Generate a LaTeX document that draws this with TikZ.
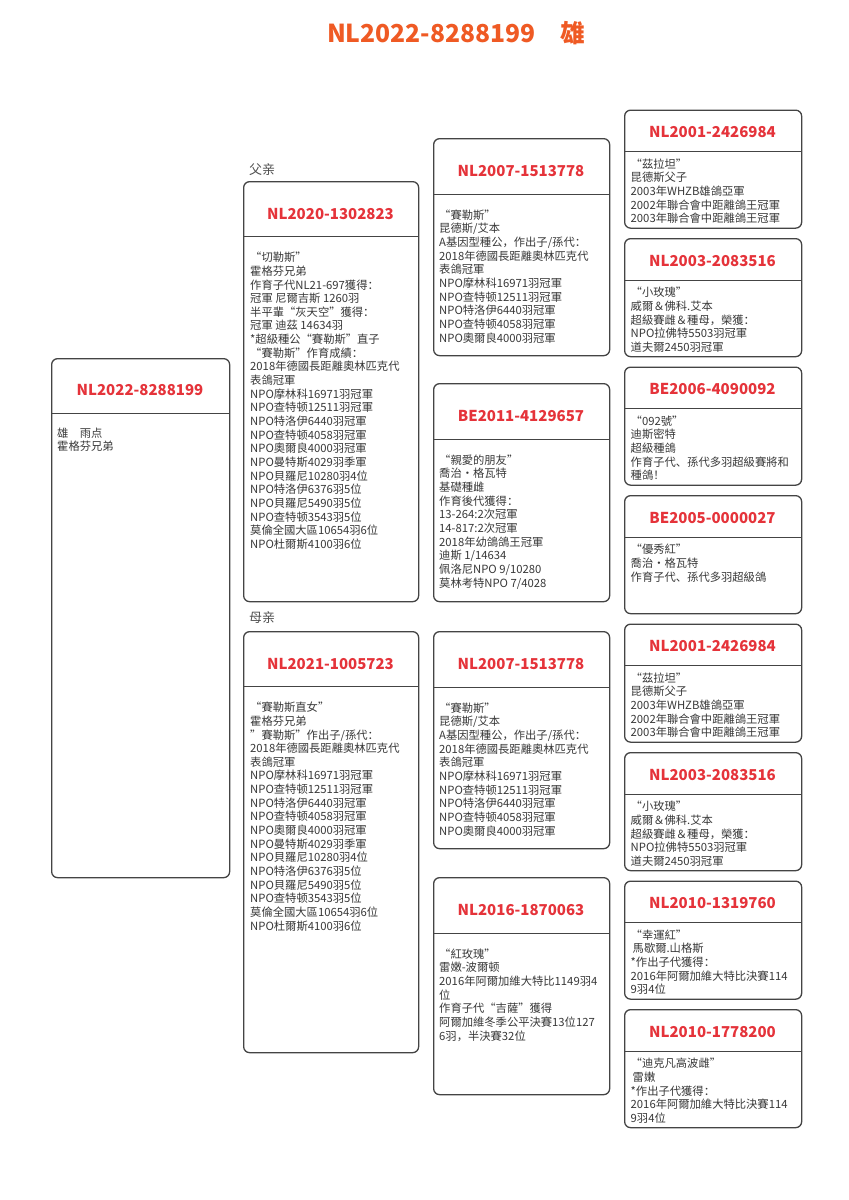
\documentclass[tikz,border=0pt]{standalone}
\usepackage{fontspec}
\setmainfont{Noto Sans CJK SC}
\definecolor{titleor}{HTML}{EF5A24}
\definecolor{hdred}{HTML}{E5333A}
\definecolor{bodyc}{HTML}{383838}
\definecolor{brd}{HTML}{444444}
\definecolor{lblc}{HTML}{505050}
\tikzset{
  boxline/.style={draw=brd,line width=1.3pt,rounded corners=6pt,minimum width=#1,inner sep=0pt,anchor=north west},
  divline/.style={draw=brd,line width=0.9pt},
  hdtext/.style={text=hdred,font=\fontsize{15}{18}\selectfont\bfseries,inner sep=0pt},
  bodytext/.style={text=bodyc,font=\fontsize{11.3}{13.65}\selectfont,inner sep=0pt,align=left,anchor=north west},
  lbltext/.style={text=lblc,font=\fontsize{13}{15}\selectfont,inner sep=0pt,anchor=west},
  titletext/.style={text=titleor,font=\fontsize{24.7}{28}\selectfont\bfseries,inner sep=0pt}
}
% #1 name, #2 x, #3 y, #4 w, #5 h, #6 divider offset, #7 title offset, #8 title, #9 body
\newcommand\pedbox[9]{%
  \node[boxline=#4pt,minimum height=#5pt] (#1) at (#2,#3) {};
  \draw[divline] (#2,#3+#6) -- (#2+#4,#3+#6);
  \node[hdtext] (#1-t) at (#2+#4/2,#3+#7) {#8};
  \node[bodytext] (#1-b) at (#2+\bodyx,#3+\bodyy) {\rule{0pt}{11pt}#9};
}
\begin{document}
\begin{tikzpicture}[x=1pt,y=-1pt]
\useasboundingbox (0,0) rectangle (849,1200);
\fill[white] (0,0) rectangle (849,1200);

\node[titletext] (title) at (456,33) {NL2022-8288199　雄};

% main
\def\bodyx{6}\def\bodyy{68}
\pedbox{main}{51}{358}{178}{519}{55}{32}{NL2022-8288199}{雄　雨点\\霍格芬兄弟}

% column 2
\node[lbltext] (lblf) at (249,170) {父亲};
\node[lbltext] (lblm) at (249,618) {母亲};
\def\bodyx{7}\def\bodyy{69.5}
\pedbox{sire}{243}{181}{175}{420}{55}{33}{NL2020-1302823}{“切勒斯”\\霍格芬兄弟\\作育子代NL21-697獲得：\\冠軍 尼爾吉斯 1260羽\\半平輩“灰天空”獲得：\\冠軍 迪茲 14634羽\\*超級種公“賽勒斯”直子\\“賽勒斯”作育成績：\\2018年德國長距離奧林匹克代\\表鴿冠軍\\NPO摩林科16971羽冠軍\\NPO查特顿12511羽冠軍\\NPO特洛伊6440羽冠軍\\NPO查特顿4058羽冠軍\\NPO奧爾良4000羽冠軍\\NPO曼特斯4029羽季軍\\NPO貝羅尼10280羽4位\\NPO特洛伊6376羽5位\\NPO貝羅尼5490羽5位\\NPO查特顿3543羽5位\\莫倫全國大區10654羽6位\\NPO杜爾斯4100羽6位}
\pedbox{dam}{243}{631}{175}{421}{55}{33}{NL2021-1005723}{“賽勒斯直女”\\霍格芬兄弟\\\char"0022賽勒斯\char"0022作出子/孫代：\\2018年德國長距離奧林匹克代\\表鴿冠軍\\NPO摩林科16971羽冠軍\\NPO查特顿12511羽冠軍\\NPO特洛伊6440羽冠軍\\NPO查特顿4058羽冠軍\\NPO奧爾良4000羽冠軍\\NPO曼特斯4029羽季軍\\NPO貝羅尼10280羽4位\\NPO特洛伊6376羽5位\\NPO貝羅尼5490羽5位\\NPO查特顿3543羽5位\\莫倫全國大區10654羽6位\\NPO杜爾斯4100羽6位}

% column 3
\def\bodyx{6}\def\bodyy{70}
\pedbox{ss}{433}{138}{176}{217}{56}{33}{NL2007-1513778}{“賽勒斯”\\昆德斯/艾本\\A基因型種公，作出子/孫代：\\2018年德國長距離奧林匹克代\\表鴿冠軍\\NPO摩林科16971羽冠軍\\NPO查特顿12511羽冠軍\\NPO特洛伊6440羽冠軍\\NPO查特顿4058羽冠軍\\NPO奧爾良4000羽冠軍}
\pedbox{sd}{433}{383}{176}{218}{56}{33}{BE2011-4129657}{“親愛的朋友”\\喬治·格瓦特\\基礎種雌\\作育後代獲得：\\13-264:2次冠軍\\14-817:2次冠軍\\2018年幼鴿鴿王冠軍\\迪斯 1/14634\\佩洛尼NPO 9/10280\\莫林考特NPO 7/4028}
\pedbox{ds}{433}{631}{176}{217}{56}{33}{NL2007-1513778}{“賽勒斯”\\昆德斯/艾本\\A基因型種公，作出子/孫代：\\2018年德國長距離奧林匹克代\\表鴿冠軍\\NPO摩林科16971羽冠軍\\NPO查特顿12511羽冠軍\\NPO特洛伊6440羽冠軍\\NPO查特顿4058羽冠軍\\NPO奧爾良4000羽冠軍}
\pedbox{dd}{433}{877}{176}{217}{56}{33}{NL2016-1870063}{“紅玫瑰”\\雷嫩-波爾顿\\2016年阿爾加維大特比1149羽4\\位\\作育子代“吉薩”獲得\\阿爾加維冬季公平決賽13位127\\6羽，半決賽32位}

% column 4
\def\bodyx{6.5}\def\bodyy{47.5}
\pedbox{sss}{624}{109.5}{177}{118}{42}{23}{NL2001-2426984}{“茲拉坦”\\昆德斯父子\\2003年WHZB雄鴿亞軍\\2002年聯合會中距離鴿王冠軍\\2003年聯合會中距離鴿王冠軍}
\pedbox{ssd}{624}{238}{177}{118}{42}{23}{NL2003-2083516}{“小玫瑰”\\威爾＆佛科.艾本\\超級賽雌＆種母，榮獲：\\NPO拉佛特5503羽冠軍\\道夫爾2450羽冠軍}
\pedbox{sds}{624}{366.5}{177}{118}{42}{23}{BE2006-4090092}{“092號”\\迪斯密特\\超級種鴿\\作育子代、孫代多羽超級賽將和\\種鴿！}
\pedbox{sdd}{624}{495}{177}{118}{42}{23}{BE2005-0000027}{“優秀紅”\\喬治·格瓦特\\作育子代、孫代多羽超級鴿}
\pedbox{dss}{624}{623.5}{177}{118}{42}{23}{NL2001-2426984}{“茲拉坦”\\昆德斯父子\\2003年WHZB雄鴿亞軍\\2002年聯合會中距離鴿王冠軍\\2003年聯合會中距離鴿王冠軍}
\pedbox{dsd}{624}{752}{177}{118}{42}{23}{NL2003-2083516}{“小玫瑰”\\威爾＆佛科.艾本\\超級賽雌＆種母，榮獲：\\NPO拉佛特5503羽冠軍\\道夫爾2450羽冠軍}
\pedbox{dds}{624}{880.5}{177}{118}{42}{23}{NL2010-1319760}{“幸運紅”\\\hspace{2pt}馬歇爾.山格斯\\*作出子代獲得：\\2016年阿爾加維大特比決賽114\\9羽4位}
\pedbox{ddd}{624}{1009}{177}{118}{42}{23}{NL2010-1778200}{“迪克凡高波雌”\\\hspace{2pt}雷嫩\\*作出子代獲得：\\2016年阿爾加維大特比決賽114\\9羽4位}
\end{tikzpicture}
\end{document}
